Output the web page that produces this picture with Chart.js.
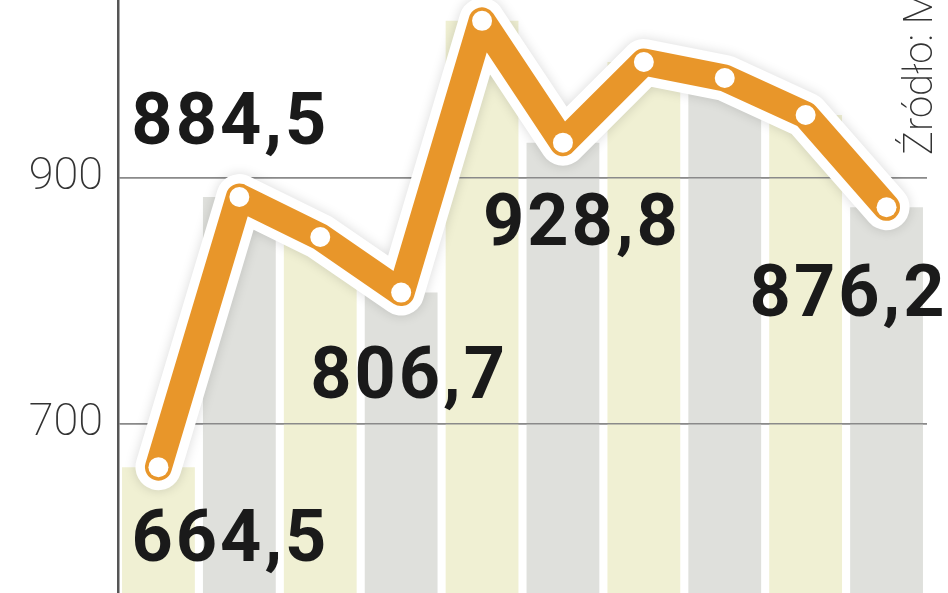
<!DOCTYPE html>
<html lang="pl">
<head>
    <meta charset="UTF-8">
    <title>Wykres</title>
    <script src="https://cdn.jsdelivr.net/npm/chart.js"></script>
    <style>
        body {
            margin: 0;
            background: #fff;
        }
        .chart-box {
            width: 948px;
            height: 593px;
            position: relative;
        }
    </style>
</head>
<body>
    <div class="chart-box">
        <canvas id="chart"></canvas>
    </div>

    <script>
        // values
        const categories = ['1', '2', '3', '4', '5', '6', '7', '8', '9', '10'];
        const values = [664.5, 884.5, 852, 806.7, 1028, 928.8, 994.5, 981.5, 951.3, 876.2];
        const valueLabels = ['664,5', '884,5', null, '806,7', null, '928,8', null, null, null, '876,2'];
        const tickValues = [700, 900];
        const tickLabels = ['700', '900'];
        const sourceText = 'Źródło: M';

        // where each value label sits relative to its point (px)
        const labelOffsets = {0: [72, 76], 1: [-9, -71], 3: [8, 87], 5: [19, 84], 9: [-38, 91]};

        const barColors = categories.map((c, i) => i % 2 === 0 ? '#f0f0d3' : '#dfe0dc');

        // grid lines sit on top of the bars but under the line
        const gridOverBars = {
            id: 'gridOverBars',
            afterDatasetDraw(chart, args) {
                if (args.index === 0) {
                    chart.scales.y.drawGrid(chart.chartArea);
                }
            }
        };

        const haloShadow = {
            id: 'haloShadow',
            beforeDatasetDraw(chart, args) {
                if (args.index === 1) {
                    chart.ctx.save();
                    chart.ctx.shadowColor = 'rgba(0,0,0,0.15)';
                    chart.ctx.shadowBlur = 12;
                }
            },
            afterDatasetDraw(chart, args) {
                if (args.index === 1) chart.ctx.restore();
            }
        };

        const valueLabelPlugin = {
            id: 'valueLabels',
            afterDatasetsDraw(chart) {
                const ctx = chart.ctx;
                const meta = chart.getDatasetMeta(2);
                ctx.save();
                ctx.font = 'bold 72px Roboto';
                ctx.letterSpacing = '3px';
                ctx.fillStyle = '#1a1a1a';
                ctx.textAlign = 'center';
                ctx.textBaseline = 'middle';
                valueLabels.forEach((txt, i) => {
                    if (!txt) return;
                    const pt = meta.data[i];
                    const off = labelOffsets[i];
                    ctx.fillText(txt, pt.x + off[0], pt.y + off[1]);
                });

                // source note, rotated
                ctx.letterSpacing = '0px';
                ctx.font = '200 40px Roboto';
                ctx.fillStyle = '#333';
                ctx.textAlign = 'left';
                ctx.textBaseline = 'alphabetic';
                ctx.translate(932, 155);
                ctx.rotate(-Math.PI / 2);
                ctx.fillText(sourceText, 0, 0);
                ctx.restore();
            }
        };

        const ctx = document.getElementById('chart').getContext('2d');
        new Chart(ctx, {
            data: {
                labels: categories,
                datasets: [{
                    type: 'bar',
                    data: values,
                    backgroundColor: barColors,
                    barPercentage: 0.9,
                    categoryPercentage: 1,
                    order: 3
                }, {
                    // white halo round the line
                    type: 'line',
                    data: values,
                    borderColor: '#fff',
                    borderWidth: 46,
                    borderJoinStyle: 'round',
                    borderCapStyle: 'round',
                    pointRadius: 0,
                    tension: 0,
                    clip: false,
                    order: 2
                }, {
                    type: 'line',
                    data: values,
                    borderColor: '#e8962a',
                    borderWidth: 27,
                    borderJoinStyle: 'round',
                    borderCapStyle: 'round',
                    pointRadius: 10,
                    pointBackgroundColor: '#fff',
                    pointBorderWidth: 0,
                    tension: 0,
                    clip: false,
                    order: 1
                }]
            },
            options: {
                responsive: true,
                maintainAspectRatio: false,
                animation: false,
                layout: { autoPadding: false, padding: { top: 0, right: 21, bottom: 0, left: 0 } },
                plugins: {
                    legend: { display: false },
                    tooltip: { enabled: false }
                },
                scales: {
                    x: { display: false },
                    y: {
                        min: 562,
                        max: 1045,
                        afterBuildTicks: axis => {
                            axis.ticks = tickValues.map(v => ({ value: v }));
                        },
                        afterFit: axis => {
                            axis.width = 118;
                            axis.paddingTop = 0;
                            axis.paddingBottom = 0;
                        },
                        ticks: {
                            padding: 15,
                            color: '#333',
                            font: { family: 'Roboto', weight: '200', size: 45 },
                            callback: v => tickLabels[tickValues.indexOf(v)]
                        },
                        grid: {
                            color: '#8a8a8a',
                            lineWidth: 1.5,
                            drawTicks: false
                        },
                        border: { color: '#555', width: 2.5 }
                    }
                }
            },
            plugins: [gridOverBars, haloShadow, valueLabelPlugin]
        });
    </script>
</body>
</html>
